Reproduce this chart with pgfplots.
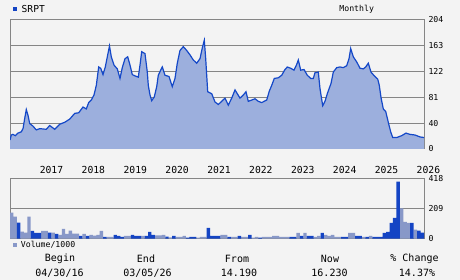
\documentclass[border=0pt]{standalone}
\usepackage{pgfplots}
\usepackage{pgfplotstable}
\pgfplotsset{compat=1.18}
\usepackage{fontspec}
\setmainfont{DejaVu Sans Mono}
\definecolor{bgc}{HTML}{F3F3F3}
\definecolor{gridc}{HTML}{858585}
\definecolor{areac}{HTML}{9CAFDD}
\definecolor{linec}{HTML}{1448C8}
\definecolor{darkbar}{HTML}{1444C4}
\definecolor{lightbar}{HTML}{8898C8}

\pgfplotstableread{
px v
10 14
11.3 22
12.9 23
15.3 21
18 25
21.3 27
23 32
24.7 48
26.3 62
28 53
29.7 40
33 36
36.3 30
39.7 32
46.3 31
49.7 37
54.7 31
59.7 39
64.7 42
69.7 47
74.7 56
78.7 57
83 66
86.3 63
88.7 73
91.3 77
94 85
96.3 100
98.7 129
100.7 127
103 117
105.3 129
107.3 145
109.5 162
111.3 145
114 132
117.3 126
120 111
122.3 128
125 142
127.7 145
130 132
132.3 117
135 115
138.3 113
140 132
141.7 153
145 150
147.3 121
148.3 100
150 85
151.7 76
154.3 82
156.7 98
158.3 116
160.7 124
162.3 129
165 116
169 114
172.3 98
175 111
177.3 135
180 155
183.3 161
186.7 155
190 148
193.3 140
196.7 135
200 142
202.3 159
204.3 171
205.7 142
207.7 90
211.7 87
215 74
218.3 70
221.7 75
225 80
228.3 69
231.7 80
235 93
237.3 87
240 80
243.3 85
246 90
248.3 75
251.7 77
255 79
258.3 75
261.7 73
266.7 77
269.3 91
271.7 100
274.3 111
278.3 112
281.7 116
285 125
287.3 129
290.7 127
294 124
296.7 133
298.3 140
300.7 124
304 125
307.3 116
310.7 111
313.3 111
315 120
318.3 121
320 95
322.7 68
325 75
327.5 88
331 103
333.3 121
336.7 128
340 129
343.3 128
346.7 131
349 142
350.7 158
353.3 145
356.7 137
360 127
363.3 126
365.7 129
368.3 135
371 121
374.3 115
377.7 110
379.3 100
381 81
383.3 63
385.7 59
388.3 42
390.7 27
392.7 18
396.7 18
401.7 21
406 25
410 23
415 22
420 19
424 18
}\price

\pgfplotstableread{
k v
2 112
6 54
7 40
8 40
11 42
13 33
20 19
22 19
27 12
30 26
31 19
32 12
35 26
36 19
37 19
39 19
40 47
41 26
45 14
47 19
51 7
52 12
53 12
57 75
58 19
59 19
60 19
63 12
66 19
69 26
72 7
81 12
82 12
84 19
86 19
87 19
90 40
96 12
97 12
100 19
101 19
103 12
105 12
106 12
107 12
108 40
109 47
110 110
111 145
112 400
116 110
118 56
119 42
}\voldark

\pgfplotstableread{
k v
0 182
1 154
3 49
4 42
5 154
9 54
10 54
12 42
14 26
15 68
16 33
17 56
18 35
19 35
21 33
23 26
24 21
25 26
26 54
28 12
29 12
33 19
34 19
38 19
42 23
43 23
44 26
46 9
48 12
49 12
50 19
54 7
55 12
56 12
61 26
62 26
64 12
65 12
67 12
68 12
70 7
71 12
73 12
74 12
75 12
76 19
77 19
78 12
79 12
80 12
83 40
85 40
88 12
89 19
91 26
92 19
93 26
94 12
95 12
98 40
99 40
102 12
104 19
113 212
114 117
115 110
117 63
}\vollight

\pgfplotsset{
  panel/.style={
    scale only axis, anchor=south west,
    width=414pt, xmin=0, xmax=120, ymin=0,
    xtick=\empty,
    axis line style={draw=gridc, line width=1pt},
    ymajorgrids, grid style={gridc, line width=1pt},
    major tick length=0pt,
    yticklabel pos=right,
    /pgf/number format/assume math mode=true,
    yticklabel style={font=\fontsize{8.2}{9}\selectfont, anchor=west, xshift=1pt},
    axis background/.style={fill=bgc},
  }
}

\begin{document}
\begin{tikzpicture}[x=1pt,y=1pt]
\fill[bgc] (0,0) rectangle (460,280);

\begin{axis}[panel, at={(10pt,131pt)}, height=129.7pt, ymax=204,
  ytick={0,40.8,81.6,122.4,163.2,204},
  yticklabels={0,40,81,122,163,204}]
\addplot[fill=areac, draw=none] table[x expr=(\thisrow{px}-10)/3.45, y=v] {\price} \closedcycle;
\addplot[draw=linec, line width=1.2pt] table[x expr=(\thisrow{px}-10)/3.45, y=v] {\price};
\end{axis}

\begin{axis}[panel, at={(10pt,41.3pt)}, height=59.7pt, ymax=418,
  ytick={0,209,418}, yticklabels={0,209,418}]
\addplot[ybar, bar width=1, bar shift=0pt, fill=lightbar, draw=none]
  table[x expr=\thisrow{k}+0.5, y=v] {\vollight};
\addplot[ybar, bar width=1, bar shift=0pt, fill=darkbar, draw=none]
  table[x expr=\thisrow{k}+0.5, y=v] {\voldark};
\end{axis}

% legend and labels
\fill[darkbar] (12.7,268.5) rectangle (17.3,273.2);
\node[anchor=west, inner sep=0pt, font=\fontsize{9.6}{10}\selectfont] at (21.5,271.3) {SRPT};
\node[inner sep=0pt, font=\fontsize{8.2}{9}\selectfont] at (356.7,271) {Monthly};

\foreach \yr [count=\i from 0] in {2017,2018,2019,2020,2021,2022,2023,2024,2025,2026}
  \node[inner sep=0pt, font=\fontsize{9.7}{10}\selectfont] at ({51.5+41.88*\i},110.3) {\yr};

\fill[lightbar] (12.7,32.7) rectangle (17.3,37);
\node[anchor=west, inner sep=0pt, font=\fontsize{8.2}{9}\selectfont] at (20.7,35) {Volume/1000};

\begin{scope}[every node/.style={inner sep=0pt, font=\fontsize{10}{11}\selectfont}]
\node at (60,21) {Begin};
\node at (59.5,6.7) {04/30/16};
\node at (146,21) {End};
\node at (147.5,6.7) {03/05/26};
\node at (237,21) {From};
\node at (239,6.7) {14.190};
\node at (330,21) {Now};
\node at (329.5,6.7) {16.230};
\node at (414.5,21) {\% Change};
\node at (417,6.7) {14.37\%};
\end{scope}
\end{tikzpicture}
\end{document}
